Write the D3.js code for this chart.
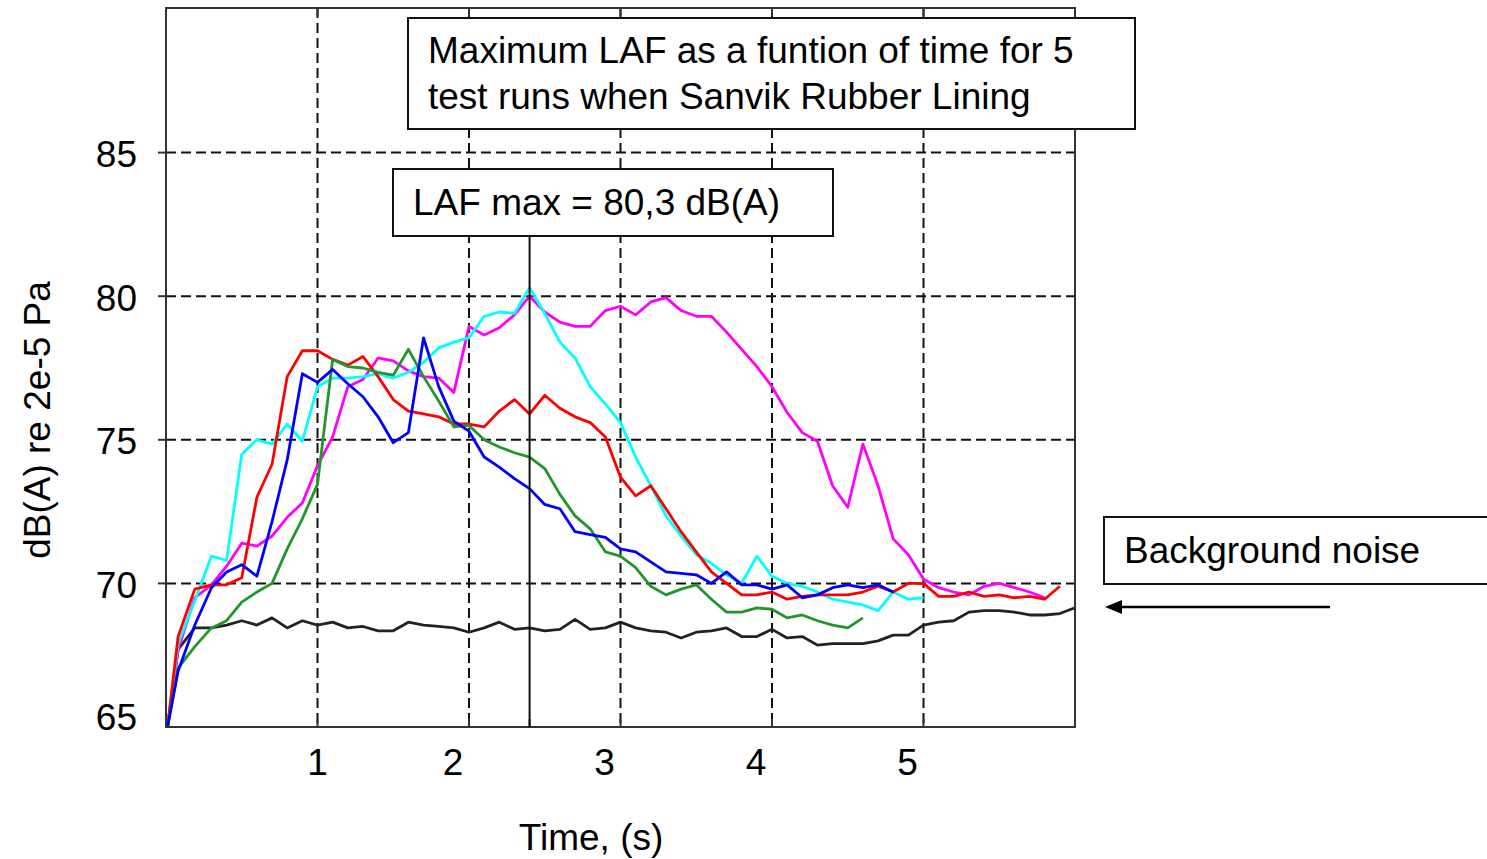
<!DOCTYPE html>
<html>
<head>
<meta charset="utf-8">
<script src="https://cdn.jsdelivr.net/npm/d3@7"></script>
<style>
  body { margin: 0; background: #fff; }
  text { font-family: "Liberation Sans", Arial, sans-serif; fill: #000; }
</style>
</head>
<body>
<div class="chart"></div>
<script>
// sample times (s), shared by all runs
const time = [0.01, 0.08, 0.19, 0.3, 0.4, 0.5, 0.6, 0.7, 0.8, 0.9,
  1.0, 1.1, 1.2, 1.3, 1.4, 1.5, 1.6, 1.7, 1.8, 1.9,
  2.0, 2.1, 2.2, 2.3, 2.4, 2.5, 2.6, 2.7, 2.8, 2.9,
  3.0, 3.1, 3.2, 3.3, 3.4, 3.5, 3.6, 3.7, 3.8, 3.9,
  4.0, 4.1, 4.2, 4.3, 4.4, 4.5, 4.6, 4.7, 4.8, 4.9,
  5.0, 5.1, 5.2, 5.3, 5.4, 5.5, 5.6, 5.7, 5.8, 5.9, 6.0]

// LAF per run, dB(A)
const runRed = [65.0, 68.15, 69.8, 69.95, 69.95, 70.2, 73.0, 74.15, 77.2, 78.1,
  78.1, 77.8, 77.6, 77.9, 77.2, 76.4, 76.0, 75.9, 75.8, 75.55,
  75.55, 75.45, 76.0, 76.4, 75.9, 76.55, 76.1, 75.8, 75.6, 75.1,
  73.7, 73.05, 73.4, 72.6, 71.8, 71.1, 70.4, 70.0, 69.6, 69.6,
  69.7, 69.45, 69.55, 69.6, 69.6, 69.6, 69.7, 69.9, 69.7, 70.0,
  70.0, 69.55, 69.55, 69.7, 69.55, 69.6, 69.5, 69.55, 69.45, 69.9]
const runCyan = [65.0, 67.9, 69.4, 70.95, 70.8, 74.5, 75.0, 74.85, 75.55, 74.95,
  76.85, 77.15, 77.15, 77.2, 77.3, 77.15, 77.35, 77.7, 78.2, 78.4,
  78.55, 79.3, 79.45, 79.4, 80.3, 79.4, 78.4, 77.85, 76.85, 76.25,
  75.6, 74.4, 73.4, 72.35, 71.65, 71.0, 70.7, 70.3, 70.0, 70.95,
  70.25, 70.0, 69.9, 69.7, 69.45, 69.35, 69.25, 69.05, 69.7, 69.45,
  69.5]
const runMagenta = [65.0, 67.7, 69.5, 69.95, 70.6, 71.4, 71.3, 71.65, 72.3, 72.8,
  74.1, 75.1, 76.85, 77.1, 77.85, 77.75, 77.4, 77.2, 77.15, 76.65,
  78.95, 78.65, 78.9, 79.35, 80.0, 79.45, 79.1, 78.95, 78.95, 79.5,
  79.65, 79.35, 79.8, 79.95, 79.5, 79.3, 79.3, 78.75, 78.15, 77.55,
  76.85, 75.95, 75.25, 74.95, 73.4, 72.65, 74.85, 73.4, 71.55, 71.0,
  70.15, 69.85, 69.7, 69.6, 69.9, 70.0, 69.85, 69.7, 69.5]
const runBlue = [65.0, 66.95, 68.55, 69.85, 70.4, 70.65, 70.25, 72.15, 74.3, 77.3,
  77.0, 77.45, 76.95, 76.5, 75.8, 74.9, 75.25, 78.55, 76.85, 75.65,
  75.3, 74.4, 74.05, 73.65, 73.3, 72.75, 72.6, 71.8, 71.7, 71.6,
  71.2, 71.1, 70.75, 70.4, 70.35, 70.3, 70.0, 70.4, 69.95, 69.95,
  69.8, 69.95, 69.5, 69.6, 69.85, 69.95, 69.85, 69.95, 69.7]
const runGreen = [65.0, 67.05, 67.8, 68.45, 68.7, 69.35, 69.7, 70.0, 71.2, 72.25,
  73.45, 77.8, 77.55, 77.5, 77.35, 77.25, 78.15, 77.2, 76.35, 75.45,
  75.5, 75.0, 74.75, 74.55, 74.4, 74.0, 73.1, 72.35, 71.9, 71.1,
  70.95, 70.55, 69.9, 69.6, 69.8, 69.95, 69.45, 69.0, 69.0, 69.15,
  69.1, 68.8, 68.9, 68.7, 68.55, 68.45, 68.8]
const background = [65.0, 67.7, 68.45, 68.45, 68.55, 68.7, 68.55, 68.8, 68.45, 68.7,
  68.55, 68.65, 68.45, 68.5, 68.35, 68.35, 68.65, 68.55, 68.5, 68.45,
  68.3, 68.45, 68.65, 68.4, 68.45, 68.35, 68.4, 68.75, 68.4, 68.45,
  68.65, 68.45, 68.35, 68.3, 68.1, 68.3, 68.35, 68.45, 68.15, 68.15,
  68.4, 68.1, 68.15, 67.85, 67.9, 67.9, 67.9, 68.0, 68.2, 68.2,
  68.55, 68.65, 68.7, 69.0, 69.05, 69.05, 69.0, 68.9, 68.9, 68.95, 69.15]

const xTicks = [1, 2, 3, 4, 5]
const yTicks = [65, 70, 75, 80, 85]
const yGrid = [70, 75, 80, 85]
const peakTime = 2.4

const series = [
  {values: background, color: '#222222'},
  {values: runMagenta, color: '#ff00ff'},
  {values: runCyan, color: '#00ffff'},
  {values: runRed, color: '#ff0000'},
  {values: runGreen, color: '#22962a'},
  {values: runBlue, color: '#0000ff'}
]

const W = 1487, H = 859
const pLeft = 166, pRight = 1075, pTop = 8, pBottom = 727
const fs = '37px'

const x = d3.scaleLinear().domain([0, 6]).range([pLeft, pRight])
const y = d3.scaleLinear().domain([65, 90]).range([pBottom, pTop + 1])

const svg = d3.select('.chart')
  .append('svg')
  .attr('width', W)
  .attr('height', H)
  .style('background', '#fff')

// dashed grid
svg.selectAll('.hgrid')
  .data(yGrid)
  .enter()
  .append('line')
  .attr('x1', pLeft).attr('x2', pRight)
  .attr('y1', d => y(d)).attr('y2', d => y(d))
  .attr('stroke', '#111')
  .attr('stroke-width', 2)
  .attr('stroke-dasharray', '10,5')

svg.selectAll('.vgrid')
  .data(xTicks)
  .enter()
  .append('line')
  .attr('x1', d => x(d)).attr('x2', d => x(d))
  .attr('y1', pTop).attr('y2', pBottom)
  .attr('stroke', '#111')
  .attr('stroke-width', 2)
  .attr('stroke-dasharray', '10,5')

// curves
const line = d3.line()
  .x(d => x(d[0]))
  .y(d => y(d[1]))

svg.append('g')
  .selectAll('path')
  .data(series)
  .enter()
  .append('path')
  .attr('d', s => line(s.values.map((v, i) => [time[i], v])))
  .attr('fill', 'none')
  .attr('stroke', s => s.color)
  .attr('stroke-width', 2.8)
  .attr('stroke-linejoin', 'round')

// frame
svg.append('rect')
  .attr('x', pLeft).attr('y', pTop)
  .attr('width', pRight - pLeft).attr('height', pBottom - pTop)
  .attr('fill', 'none')
  .attr('stroke', '#333')
  .attr('stroke-width', 2)

// small inner ticks on top and bottom edges
svg.selectAll('.ttick')
  .data(xTicks)
  .enter()
  .append('line')
  .attr('x1', d => x(d)).attr('x2', d => x(d))
  .attr('y1', pTop).attr('y2', pTop + 8)
  .attr('stroke', '#333').attr('stroke-width', 2)
svg.selectAll('.btick')
  .data(xTicks.concat([peakTime]))
  .enter()
  .append('line')
  .attr('x1', d => x(d)).attr('x2', d => x(d))
  .attr('y1', pBottom).attr('y2', pBottom - 8)
  .attr('stroke', '#333').attr('stroke-width', 2)
svg.selectAll('.ltick')
  .data(yGrid)
  .enter()
  .append('line')
  .attr('x1', pLeft - 8).attr('x2', pLeft)
  .attr('y1', d => y(d)).attr('y2', d => y(d))
  .attr('stroke', '#333').attr('stroke-width', 2)

// tick labels
svg.selectAll('.ylab')
  .data(yTicks)
  .enter()
  .append('text')
  .attr('x', 137)
  .attr('y', d => y(d) + (d === 65 ? -10 : 2))
  .attr('text-anchor', 'end')
  .attr('dominant-baseline', 'central')
  .style('font-size', fs)
  .text(d => d)

svg.selectAll('.xlab')
  .data(xTicks)
  .enter()
  .append('text')
  .attr('x', d => x(d) - (d === 1 ? 0 : 16))
  .attr('y', 775)
  .attr('text-anchor', 'middle')
  .style('font-size', fs)
  .text(d => d)

// axis titles
svg.append('text')
  .attr('x', 591).attr('y', 850)
  .attr('text-anchor', 'middle')
  .style('font-size', fs)
  .text('Time, (s)')

svg.append('text')
  .attr('transform', 'translate(50,420) rotate(-90)')
  .attr('text-anchor', 'middle')
  .style('font-size', fs)
  .text('dB(A) re 2e-5 Pa')

// peak marker
svg.append('line')
  .attr('x1', x(peakTime)).attr('x2', x(peakTime))
  .attr('y1', 236).attr('y2', pBottom)
  .attr('stroke', '#111').attr('stroke-width', 2)

// annotation boxes
function box(bx, by, bw, bh, lines, ty) {
  svg.append('rect')
    .attr('x', bx).attr('y', by)
    .attr('width', bw).attr('height', bh)
    .attr('fill', '#fff')
    .attr('stroke', '#111')
    .attr('stroke-width', 2)
  lines.forEach((t, i) => {
    svg.append('text')
      .attr('x', bx + 20).attr('y', ty + i * 46)
      .style('font-size', fs)
      .text(t)
  })
}
box(408, 18, 727, 111, ['Maximum LAF as a funtion of time for 5', 'test runs when Sanvik Rubber Lining'], 63)
box(393, 169, 440, 67, ['LAF max = 80,3 dB(A)'], 215)
box(1104, 517, 420, 67, ['Background noise'], 563)

// arrow to the background curve
svg.append('line')
  .attr('x1', 1330).attr('x2', 1115)
  .attr('y1', 607).attr('y2', 607)
  .attr('stroke', '#000').attr('stroke-width', 2.5)
svg.append('path')
  .attr('d', 'M1105,607 L1122,600 L1122,614 Z')
  .attr('fill', '#000')
</script>
</body>
</html>
